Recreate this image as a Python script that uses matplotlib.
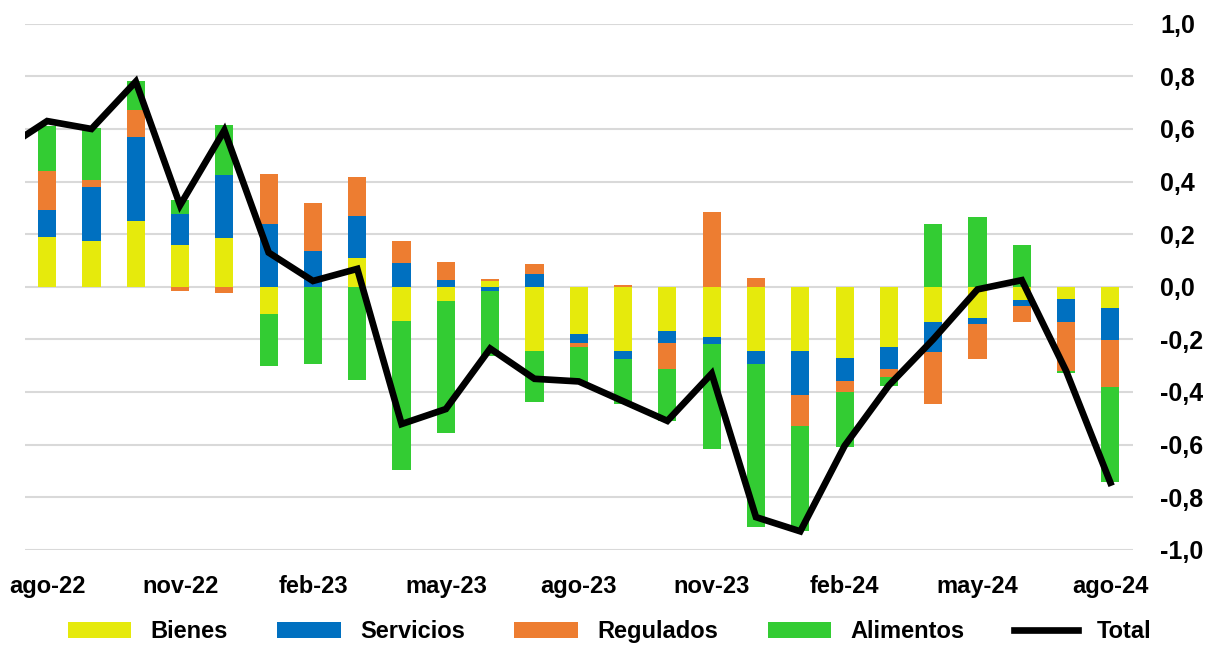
import numpy as np
import matplotlib.pyplot as plt
from matplotlib.ticker import FuncFormatter

# Meses (ago-22 a ago-24)
meses = ["ago-22", "sep-22", "oct-22", "nov-22", "dic-22",
         "ene-23", "feb-23", "mar-23", "abr-23", "may-23", "jun-23", "jul-23",
         "ago-23", "sep-23", "oct-23", "nov-23", "dic-23",
         "ene-24", "feb-24", "mar-24", "abr-24", "may-24", "jun-24", "jul-24", "ago-24"]

bienes = [0.19, 0.175, 0.25, 0.16, 0.186, -0.105, 0.0, 0.11, -0.13, -0.055, 0.023, -0.243,
          -0.18, -0.243, -0.168, -0.19, -0.243, -0.243, -0.272, -0.228, -0.135, -0.12, -0.05, -0.047, -0.082]
servicios = [0.10, 0.205, 0.318, 0.115, 0.24, 0.24, 0.137, 0.16, 0.089, 0.025, -0.015, 0.047,
             -0.032, -0.033, -0.044, -0.028, -0.051, -0.169, -0.085, -0.086, -0.114, -0.022, -0.022, -0.086, -0.121]
regulados = [0.15, 0.027, 0.106, -0.015, -0.025, 0.187, 0.183, 0.147, 0.086, 0.07, 0.007, 0.038,
             -0.016, 0.008, -0.102, 0.283, 0.035, -0.118, -0.042, -0.031, -0.198, -0.133, -0.063, -0.187, -0.18]
alimentos = [0.17, 0.196, 0.109, 0.055, 0.19, -0.195, -0.295, -0.355, -0.567, -0.50, -0.25, -0.194,
             -0.133, -0.17, -0.196, -0.40, -0.618, -0.398, -0.212, -0.033, 0.238, 0.266, 0.159, -0.007, -0.358]
total = [0.63, 0.60, 0.78, 0.31, 0.595, 0.13, 0.022, 0.068, -0.522, -0.465, -0.235, -0.35,
         -0.36, -0.435, -0.51, -0.33, -0.876, -0.93, -0.605, -0.375, -0.2, -0.01, 0.025, -0.32, -0.745]
total_jul22 = 0.52  # punto previo (fuera del area visible)

series = [("Bienes", bienes, "#E6EA0C"),
          ("Servicios", servicios, "#0070C0"),
          ("Regulados", regulados, "#ED7D31"),
          ("Alimentos", alimentos, "#33CC33")]

plt.rcParams['font.family'] = ['Liberation Sans', 'DejaVu Sans']
plt.rcParams['font.weight'] = 'bold'

fig = plt.figure(figsize=(12.14, 6.46), dpi=100)
ax = fig.add_axes([0.0206, 0.149, 0.9123, 0.8142])

x = np.arange(len(meses))
base_pos = np.zeros(len(meses))
base_neg = np.zeros(len(meses))
handles = []
for nombre, valores, color in series:
    v = np.array(valores)
    base = np.where(v >= 0, base_pos, base_neg)
    b = ax.bar(x, v, 0.41, bottom=base, color=color, label=nombre, zorder=2)
    handles.append(b)
    base_pos = base_pos + np.where(v >= 0, v, 0)
    base_neg = base_neg + np.where(v < 0, v, 0)

xl = np.arange(-1, len(meses))
linea, = ax.plot(xl, [total_jul22] + total, color="black", lw=4.8, label="Total",
                 solid_joinstyle="miter", zorder=3)
handles.append(linea)

ax.set_xlim(-0.5, len(meses) - 0.5)
ax.set_ylim(-1.0, 1.0)
ax.set_yticks(np.arange(-1.0, 1.01, 0.2))
ax.yaxis.set_major_formatter(FuncFormatter(lambda v, p: f"{v:.1f}".replace(".", ",").replace("-0,0", "0,0")))
ax.yaxis.tick_right()
ax.tick_params(axis="y", length=0, pad=20, labelsize=18)
ax.set_xticks(x[::3])
ax.set_xticklabels(meses[::3])
ax.tick_params(axis="x", length=0, pad=18, labelsize=17)
ax.grid(axis="y", color="#D9D9D9", lw=1.5, zorder=0)
ax.set_axisbelow(True)
for s in ax.spines.values():
    s.set_visible(False)

fig.legend(handles=handles, labels=[h.get_label() for h in handles],
           loc="center", bbox_to_anchor=(0.502, 0.022), ncol=5, frameon=False,
           fontsize=17, handlelength=2.7, handleheight=0.7, handletextpad=0.8,
           columnspacing=2.1)

fig.savefig("out.png", dpi=100)
